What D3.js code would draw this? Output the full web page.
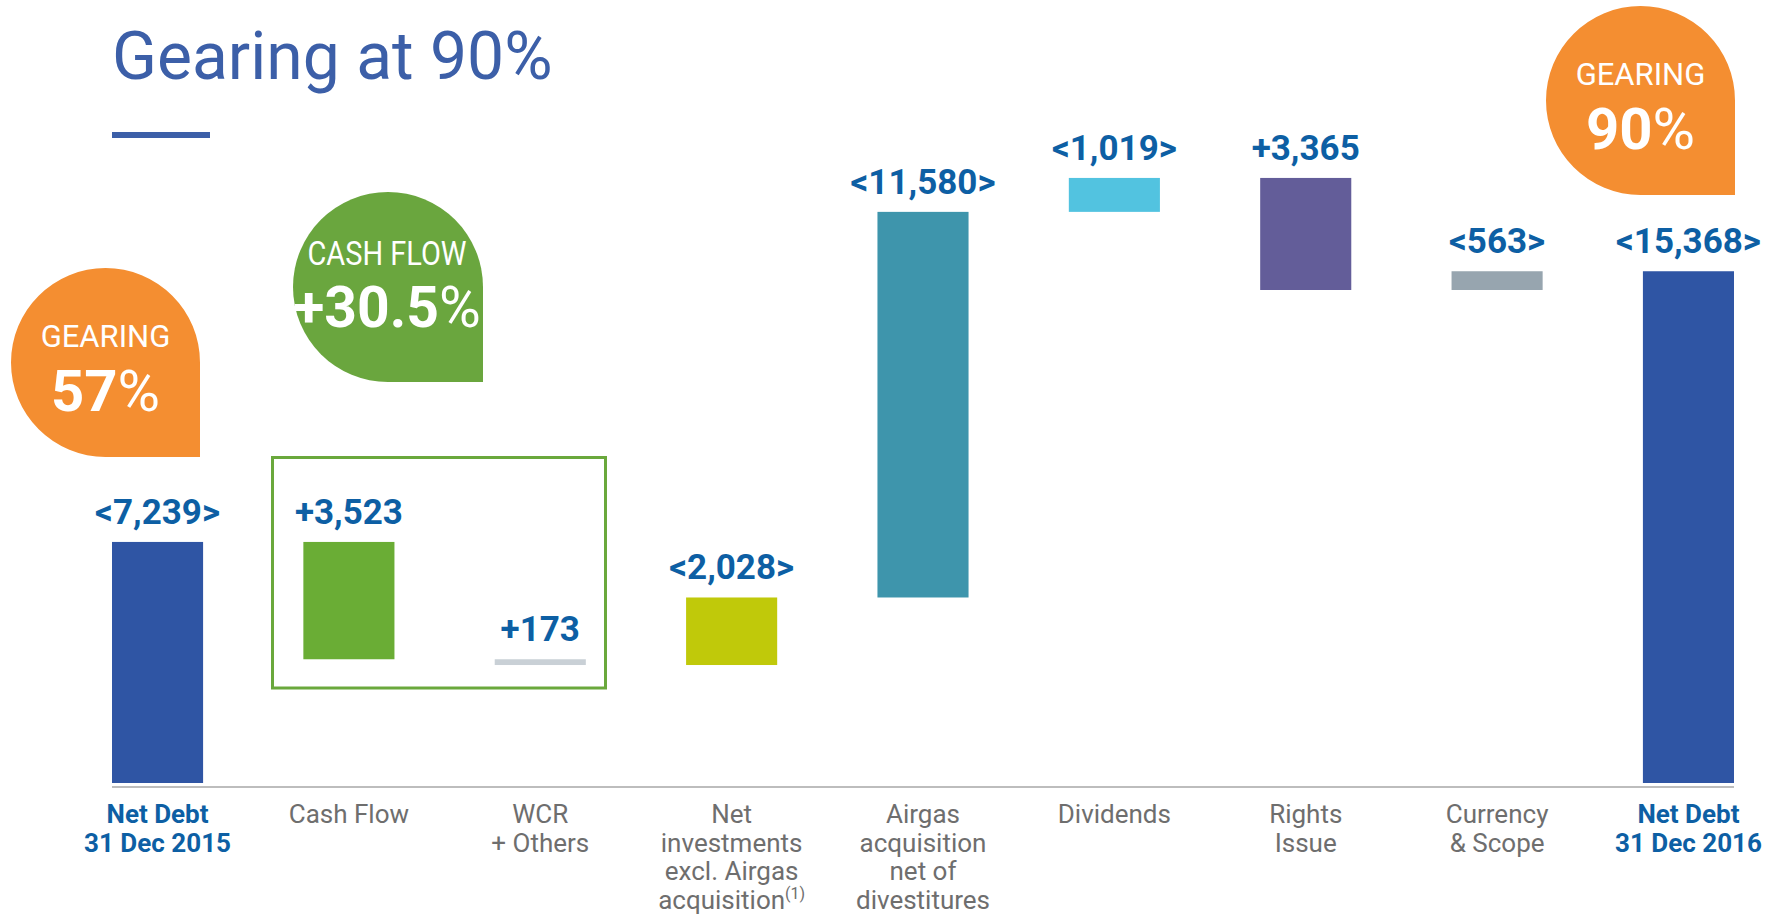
<!DOCTYPE html>
<html>
<head>
<meta charset="utf-8">
<script src="https://cdn.jsdelivr.net/npm/d3@7"></script>
<style>
  body { margin: 0; background: #fff; }
  svg { display: block; font-family: Roboto, "Noto Sans", sans-serif; }
</style>
</head>
<body>
<svg width="1769" height="915"></svg>
<script>
// change in net debt (M€): positive = debt up, negative = debt down
var categories = ['nd2015', 'cf', 'wcr', 'inv', 'airgas', 'div', 'rights', 'fx', 'nd2016'];
var catLabels = [
  ['Net Debt', '31 Dec 2015'],
  ['Cash Flow'],
  ['WCR', '+ Others'],
  ['Net', 'investments', 'excl. Airgas', 'acquisition'],
  ['Airgas', 'acquisition', 'net of', 'divestitures'],
  ['Dividends'],
  ['Rights', 'Issue'],
  ['Currency', '& Scope'],
  ['Net Debt', '31 Dec 2016']
];
var deltas = [7239, -3523, -173, 2028, 11580, 1019, -3365, 563, 15368];
var isTotal = [true, false, false, false, false, false, false, false, true];
var barColors = ['#2f55a4', '#6aad35', '#c9d0d6', '#c0c90a', '#3e95ac', '#52c3e0', '#635d99', '#97a5af', '#2f55a4'];
var gearing = ['57%', '90%'];
var cashFlowGrowth = '+30.5%';

var svg = d3.select('svg');
var blue = '#0d5fa4', grey = '#6e6e6e';

// running totals for the waterfall
var run = 0;
var bars = categories.map(function(c, i) {
  var d = deltas[i], y0, y1;
  if (isTotal[i]) { y0 = 0; y1 = d; run = d; }
  else { y0 = run; y1 = run + d; run = y1; }
  return {key: c, lo: Math.min(y0, y1), hi: Math.max(y0, y1), delta: d, total: isTotal[i], color: barColors[i], lines: catLabels[i]};
});

var base = 783;
var x = d3.scaleBand().domain(categories).range([112, 1734]).paddingInner(0.524).paddingOuter(0);
var maxDebt = d3.max(bars, d => d.hi);
var y = d3.scaleLinear().domain([0, maxDebt]).range([base, base - maxDebt * 0.0333]);

var fmt = d3.format(',');
var label = d => d.delta < 0 && !d.total ? '+' + fmt(-d.delta) : '<' + fmt(Math.abs(d.delta)) + '>';

// title
svg.append('text')
  .attr('x', 112).attr('y', 79)
  .style('font-size', '66px').style('fill', '#3c5fa8')
  .text('Gearing at 90%');
svg.append('rect').attr('x', 112).attr('y', 132).attr('width', 98).attr('height', 6).attr('fill', '#3c5fa8');

// axis line
svg.append('line')
  .attr('x1', x.range()[0]).attr('x2', x.range()[1])
  .attr('y1', base + 4).attr('y2', base + 4)
  .attr('stroke', '#bdbdbd').attr('stroke-width', 2);

// cash flow box
svg.append('rect')
  .attr('x', 272.5).attr('y', 457.5).attr('width', 333).attr('height', 230.5)
  .attr('fill', 'none').attr('stroke', '#6aa83c').attr('stroke-width', 3);

var g = svg.selectAll('.bar').data(bars).enter().append('g').attr('class', 'bar');

g.append('rect')
  .attr('x', d => x(d.key))
  .attr('y', d => y(d.hi))
  .attr('width', x.bandwidth())
  .attr('height', d => y(d.lo) - y(d.hi))
  .attr('fill', d => d.color);

g.append('text')
  .attr('x', d => x(d.key) + x.bandwidth() / 2)
  .attr('y', d => y(d.hi) - 18)
  .attr('text-anchor', 'middle')
  .style('font-size', '35px').style('font-weight', 700).style('fill', blue)
  .text(label);

// category labels
var cat = g.append('text')
  .attr('text-anchor', 'middle')
  .style('font-size', '26px')
  .style('font-weight', d => d.total ? 700 : 400)
  .style('fill', d => d.total ? blue : grey);
cat.each(function(d) {
  var t = d3.select(this), cx = x(d.key) + x.bandwidth() / 2;
  d.lines.forEach(function(l, j) {
    t.append('tspan').attr('x', cx).attr('y', 823 + j * 28.5).text(l);
  });
});
// footnote mark on net investments
cat.filter(d => d.key === 'inv').select('tspan:last-child')
  .append('tspan').attr('dy', -10).style('font-size', '16px').text('(1)');

// drop-shaped call-outs (square bottom-right corner)
function drop(x0, y0, s) {
  var r = s / 2;
  return 'M' + (x0 + r) + ',' + y0 +
    'A' + r + ',' + r + ' 0 0 1 ' + (x0 + s) + ',' + (y0 + r) +
    'L' + (x0 + s) + ',' + (y0 + s) + 'L' + (x0 + r) + ',' + (y0 + s) +
    'A' + r + ',' + r + ' 0 0 1 ' + x0 + ',' + (y0 + r) +
    'A' + r + ',' + r + ' 0 0 1 ' + (x0 + r) + ',' + y0 + 'Z';
}

function gearBubble(x0, y0, val) {
  svg.append('path').attr('d', drop(x0, y0, 189)).attr('fill', '#f48e31');
  svg.append('text').attr('x', x0 + 94.5).attr('y', y0 + 79).attr('text-anchor', 'middle')
    .style('font-size', '31px').style('fill', '#fff').text('GEARING');
  var t = svg.append('text').attr('x', x0 + 94.5).attr('y', y0 + 143).attr('text-anchor', 'middle')
    .style('font-size', '58px').style('fill', '#fff');
  t.append('tspan').style('font-weight', 700).text(val.replace('%', ''));
  t.append('tspan').text('%');
}
gearBubble(11, 268, gearing[0]);
gearBubble(1546, 6, gearing[1]);

svg.append('path').attr('d', drop(293, 192, 190)).attr('fill', '#6aa63e');
svg.append('text').attr('x', 387).attr('y', 265).attr('text-anchor', 'middle')
  .attr('textLength', 159).attr('lengthAdjust', 'spacingAndGlyphs')
  .style('font-size', '34px').style('fill', '#fff').text('CASH FLOW');
var cf = svg.append('text').attr('x', 387).attr('y', 327).attr('text-anchor', 'middle')
  .style('font-size', '57px').style('fill', '#fff');
cf.append('tspan').style('font-weight', 700).text(cashFlowGrowth.replace('%', ''));
cf.append('tspan').text('%');
</script>
</body>
</html>
